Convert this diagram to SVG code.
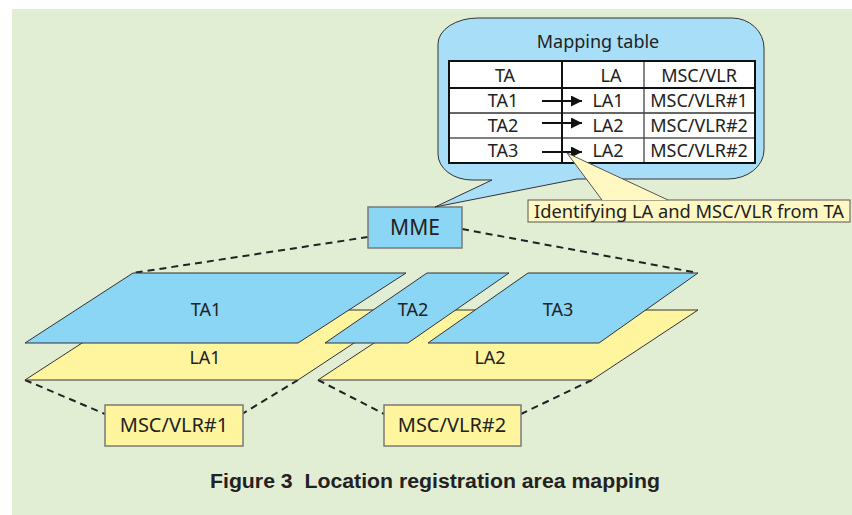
<svg xmlns="http://www.w3.org/2000/svg" width="852" height="515" viewBox="0 0 852 515">
<style>
text{font-family:"Noto Sans","Open Sans",sans-serif;fill:#222;text-anchor:middle}
.t17{font-size:18px}
.ta{fill:#8bd5f5;stroke:#333;stroke-width:1}
.la{fill:#fff59f;stroke:#333;stroke-width:1}
.dash{fill:none;stroke:#222;stroke-width:2;stroke-dasharray:7 5}
.box{stroke:#7a7a7a;stroke-width:1.5}
</style>
<defs>
<marker id="ah" viewBox="0 0 10 10" refX="10" refY="5" markerWidth="7.5" markerHeight="5.5" markerUnits="strokeWidth" orient="auto">
<path d="M0,0 L10,5 L0,10 Z" fill="#111"/>
</marker>
</defs>
<rect x="12" y="9" width="840" height="506" fill="#e2eed3"/>

<g id="connectors">
<line class="dash" x1="368" y1="237" x2="133" y2="273"/>
<line class="dash" x1="462" y1="229" x2="698" y2="273"/>
<line class="dash" x1="25" y1="380" x2="105" y2="414"/>
<line class="dash" x1="298" y1="380" x2="242" y2="414"/>
<line class="dash" x1="318" y1="380" x2="384" y2="414"/>
<line class="dash" x1="592" y1="380" x2="521" y2="414"/>
</g>

<g id="LA1"><polygon class="la" points="25,380 298,380 404,310 133,310"/><text class="t17" x="205" y="364">LA1</text></g>
<g id="LA2"><polygon class="la" points="318,380 592,380 698,310 424,310"/><text class="t17" x="490" y="364">LA2</text></g>
<g id="TA1"><polygon class="ta" points="25,343 298,343 406,273 133,273"/><text class="t17" x="206" y="316">TA1</text></g>
<g id="TA2"><polygon class="ta" points="325,343 408,343 509,273 427,273"/><text class="t17" x="413" y="316">TA2</text></g>
<g id="TA3"><polygon class="ta" points="428,343 599,343 698,273 528,273"/><text class="t17" x="558" y="316">TA3</text></g>

<g id="MME"><rect class="box" x="368" y="207" width="94" height="41" fill="#8bd5f5"/><text x="415" y="235" style="font-size:21px">MME</text></g>

<g id="MSC1"><rect class="box" x="105" y="405" width="138" height="41" fill="#fff59f"/><text x="174" y="432" style="font-size:20px">MSC/VLR#1</text></g>
<g id="MSC2"><rect class="box" x="384" y="405" width="137" height="41" fill="#fff59f"/><text x="452" y="432" style="font-size:20px">MSC/VLR#2</text></g>

<g id="mapping-table">
<path d="M478,18 H732 A32 30 0 0 1 764,48 V150 A36 29 0 0 1 728,179 H577 L435,207 L492,180 H472 A34 26 0 0 1 438,154 V44 A40 26 0 0 1 478,18 Z" fill="#a9def8" stroke="#333" stroke-width="1"/>
<text class="t17" x="598" y="48">Mapping table</text>
<rect x="449" y="61" width="306" height="102" fill="#fff"/>
<line x1="449" y1="113" x2="755" y2="113" stroke="#333" stroke-width="1.3"/>
<line x1="449" y1="138" x2="755" y2="138" stroke="#555" stroke-width="1.3"/>
<line x1="644" y1="61" x2="644" y2="163" stroke="#444" stroke-width="1.3"/>
<line x1="449" y1="88" x2="755" y2="88" stroke="#111" stroke-width="2"/>
<line x1="562" y1="61" x2="562" y2="163" stroke="#111" stroke-width="2"/>
<rect x="449" y="61" width="306" height="102" fill="none" stroke="#111" stroke-width="2"/>
<text class="t17" x="505" y="82">TA</text>
<text class="t17" x="611" y="82">LA</text>
<text class="t17" x="699" y="82">MSC/VLR</text>
<text class="t17" x="503" y="107">TA1</text>
<text class="t17" x="608" y="107">LA1</text>
<text class="t17" x="699" y="107">MSC/VLR#1</text>
<text class="t17" x="503" y="132">TA2</text>
<text class="t17" x="608" y="132">LA2</text>
<text class="t17" x="699" y="132">MSC/VLR#2</text>
<text class="t17" x="503" y="157">TA3</text>
<text class="t17" x="608" y="157">LA2</text>
<text class="t17" x="699" y="157">MSC/VLR#2</text>
<line x1="542" y1="101" x2="582" y2="101" stroke="#111" stroke-width="2" marker-end="url(#ah)"/>
<line x1="542" y1="123" x2="582" y2="123" stroke="#111" stroke-width="2" marker-end="url(#ah)"/>
<line x1="542" y1="152" x2="582" y2="152" stroke="#111" stroke-width="2" marker-end="url(#ah)"/>
</g>

<g id="callout">
<rect x="528" y="200" width="322" height="22" fill="#fff8c2" stroke="#555" stroke-width="1"/>
<path d="M602,200 L567,153 L668,200" fill="#fff8c2" stroke="#555" stroke-width="1"/>
<text class="t17" x="689" y="218" textLength="310" lengthAdjust="spacingAndGlyphs">Identifying LA and MSC/VLR from TA</text>
</g>

<text x="435" y="488" xml:space="preserve" style="font-family:'Liberation Sans',Arial,sans-serif;font-weight:bold;font-size:20px" textLength="450" lengthAdjust="spacingAndGlyphs">Figure 3  Location registration area mapping</text>
</svg>
